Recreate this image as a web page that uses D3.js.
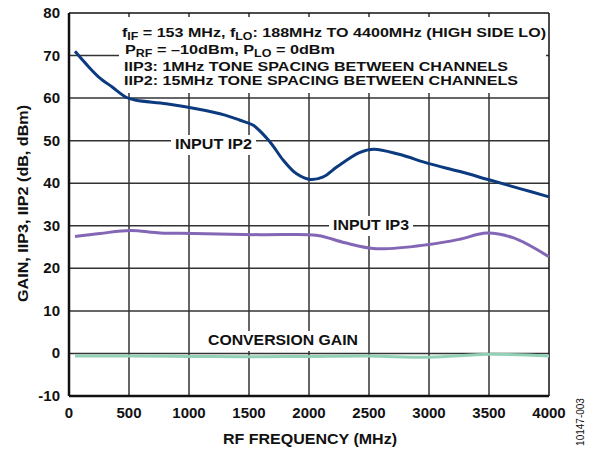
<!DOCTYPE html>
<html>
<head>
<meta charset="utf-8">
<style>
body { margin: 0; background: white; }
text { font-family: Arial, "Liberation Sans", sans-serif; font-weight: bold; fill: #111; }
.grid line { stroke: #333; stroke-width: 1.5; }
</style>
<script src="https://d3js.org/d3.v7.min.js"></script>
</head>
<body>
<div id="chart"></div>
<script>
// values
var xTicks = [0, 500, 1000, 1500, 2000, 2500, 3000, 3500, 4000];
var yTicks = [-10, 0, 10, 20, 30, 40, 50, 60, 70, 80];

var ip2Freq = [50, 140, 250, 360, 475, 560, 810, 1060, 1300, 1425, 1536, 1675, 1786, 1897, 2008, 2119, 2231, 2420, 2540, 2750, 3000, 3250, 3500, 3750, 4000];
var ip2Val  = [71, 68.1, 64.9, 62.6, 60.2, 59.5, 58.7, 57.5, 56, 54.8, 53.6, 49.7, 45.4, 42.2, 40.9, 41.5, 43.8, 47.2, 48, 46.8, 44.6, 42.8, 40.8, 38.8, 36.8];

var ip3Freq = [50, 260, 510, 760, 1040, 1590, 2000, 2100, 2300, 2560, 3000, 3250, 3480, 3700, 4000];
var ip3Val  = [27.5, 28.2, 28.9, 28.3, 28.2, 27.9, 27.9, 27.6, 26, 24.6, 25.6, 26.8, 28.3, 27.2, 22.7];

var gainFreq = [50, 500, 1000, 1500, 2000, 2500, 3000, 3500, 4000];
var gainVal  = [-0.6, -0.6, -0.7, -0.8, -0.7, -0.6, -0.9, -0.2, -0.6];

var width = 590, height = 450;
var margin = {left: 69, right: 41, top: 13, bottom: 54};

var svg = d3.select('#chart').append('svg')
    .attr('width', width)
    .attr('height', height);

var x = d3.scaleLinear().domain([0, 4000]).range([margin.left, width - margin.right]);
var y = d3.scaleLinear().domain([-10, 80]).range([height - margin.bottom, margin.top]);

// grid
var grid = svg.append('g').attr('class', 'grid');
grid.selectAll('line.v')
  .data(xTicks.slice(1, -1))
  .enter().append('line')
    .attr('x1', function(d) { return x(d); })
    .attr('x2', function(d) { return x(d); })
    .attr('y1', y(80))
    .attr('y2', y(-10));
grid.selectAll('line.h')
  .data(yTicks.slice(1, -1))
  .enter().append('line')
    .attr('class', 'h')
    .attr('x1', x(0))
    .attr('x2', x(4000))
    .attr('y1', function(d) { return y(d); })
    .attr('y2', function(d) { return y(d); });

// white box behind the notes
svg.append('rect')
    .attr('x', 119).attr('y', 17)
    .attr('width', 427).attr('height', 76)
    .attr('fill', 'white');

// frame
svg.append('line').attr('x1', x(0)).attr('x2', x(4000)).attr('y1', y(80)).attr('y2', y(80))
    .attr('stroke', '#111').attr('stroke-width', 1.5);
svg.append('line').attr('x1', x(4000)).attr('x2', x(4000)).attr('y1', y(80)).attr('y2', y(-10))
    .attr('stroke', '#111').attr('stroke-width', 1.5);

// label backgrounds + labels
function label(txt, x0, base, w) {
  svg.append('rect')
      .attr('x', x0 - 4).attr('y', base - 14)
      .attr('width', w + 8).attr('height', 20)
      .attr('fill', 'white');
  svg.append('text')
      .attr('x', x0).attr('y', base)
      .attr('textLength', w)
      .attr('lengthAdjust', 'spacingAndGlyphs')
      .style('font-size', '15px')
      .text(txt);
}
label('INPUT IP2', 175, 149, 77);
label('INPUT IP3', 333, 230, 76);
label('CONVERSION GAIN', 208, 345, 150);

// curves
var line = d3.line()
    .x(function(d) { return x(d[0]); })
    .y(function(d) { return y(d[1]); })
    .curve(d3.curveCatmullRom.alpha(0.5));

function series(fr, vals, col) {
  svg.append('path')
      .datum(d3.zip(fr, vals))
      .attr('d', line)
      .attr('fill', 'none')
      .attr('stroke', col)
      .attr('stroke-width', 3);
}
series(gainFreq, gainVal, '#93d1b6');
series(ip3Freq, ip3Val, '#8466b6');
series(ip2Freq, ip2Val, '#0c3a7f');

// axes (left and bottom heavier)
svg.append('line').attr('x1', x(0)).attr('x2', x(0)).attr('y1', y(80)).attr('y2', y(-10))
    .attr('stroke', '#111').attr('stroke-width', 2.5);
svg.append('line').attr('x1', x(0)).attr('x2', x(4000)).attr('y1', y(-10)).attr('y2', y(-10))
    .attr('stroke', '#111').attr('stroke-width', 2.5);

svg.selectAll('text.ytick')
  .data(yTicks)
  .enter().append('text')
    .attr('class', 'ytick')
    .attr('x', 60)
    .attr('y', function(d) { return y(d) + 5; })
    .attr('text-anchor', 'end')
    .style('font-size', '15px')
    .text(function(d) { return d; });

svg.selectAll('text.xtick')
  .data(xTicks)
  .enter().append('text')
    .attr('class', 'xtick')
    .attr('x', function(d) { return x(d); })
    .attr('y', 418)
    .attr('text-anchor', 'middle')
    .style('font-size', '15px')
    .text(function(d) { return d; });

svg.append('text')
    .attr('x', 223).attr('y', 444)
    .attr('textLength', 174)
    .attr('lengthAdjust', 'spacingAndGlyphs')
    .style('font-size', '15px')
    .text('RF FREQUENCY (MHz)');

svg.append('text')
    .attr('transform', 'translate(28,302) rotate(-90)')
    .attr('textLength', 197)
    .attr('lengthAdjust', 'spacingAndGlyphs')
    .style('font-size', '15px')
    .text('GAIN, IIP3, IIP2 (dB, dBm)');

svg.append('text')
    .attr('transform', 'translate(584,422) rotate(-90)')
    .attr('text-anchor', 'middle')
    .style('font-size', '10px')
    .style('font-weight', 'normal')
    .text('10147-003');

// notes
var notes = svg.append('g').style('font-size', '13px');
var n1 = notes.append('text').attr('x', 122).attr('y', 37)
    .attr('textLength', 424).attr('lengthAdjust', 'spacingAndGlyphs');
n1.append('tspan').text('f');
n1.append('tspan').attr('dy', 3).style('font-size', '10px').text('IF');
n1.append('tspan').attr('dy', -3).text(' = 153 MHz, f');
n1.append('tspan').attr('dy', 3).style('font-size', '10px').text('LO');
n1.append('tspan').attr('dy', -3).text(': 188MHz TO 4400MHz (HIGH SIDE LO)');

var n2 = notes.append('text').attr('x', 125).attr('y', 54)
    .attr('textLength', 210).attr('lengthAdjust', 'spacingAndGlyphs');
n2.append('tspan').text('P');
n2.append('tspan').attr('dy', 3).style('font-size', '10px').text('RF');
n2.append('tspan').attr('dy', -3).text(' = \u201310dBm, P');
n2.append('tspan').attr('dy', 3).style('font-size', '10px').text('LO');
n2.append('tspan').attr('dy', -3).text(' = 0dBm');

notes.append('text').attr('x', 124).attr('y', 71)
    .attr('textLength', 384).attr('lengthAdjust', 'spacingAndGlyphs')
    .text('IIP3: 1MHz TONE SPACING BETWEEN CHANNELS');
notes.append('text').attr('x', 124).attr('y', 85)
    .attr('textLength', 394).attr('lengthAdjust', 'spacingAndGlyphs')
    .text('IIP2: 15MHz TONE SPACING BETWEEN CHANNELS');
</script>
</body>
</html>
